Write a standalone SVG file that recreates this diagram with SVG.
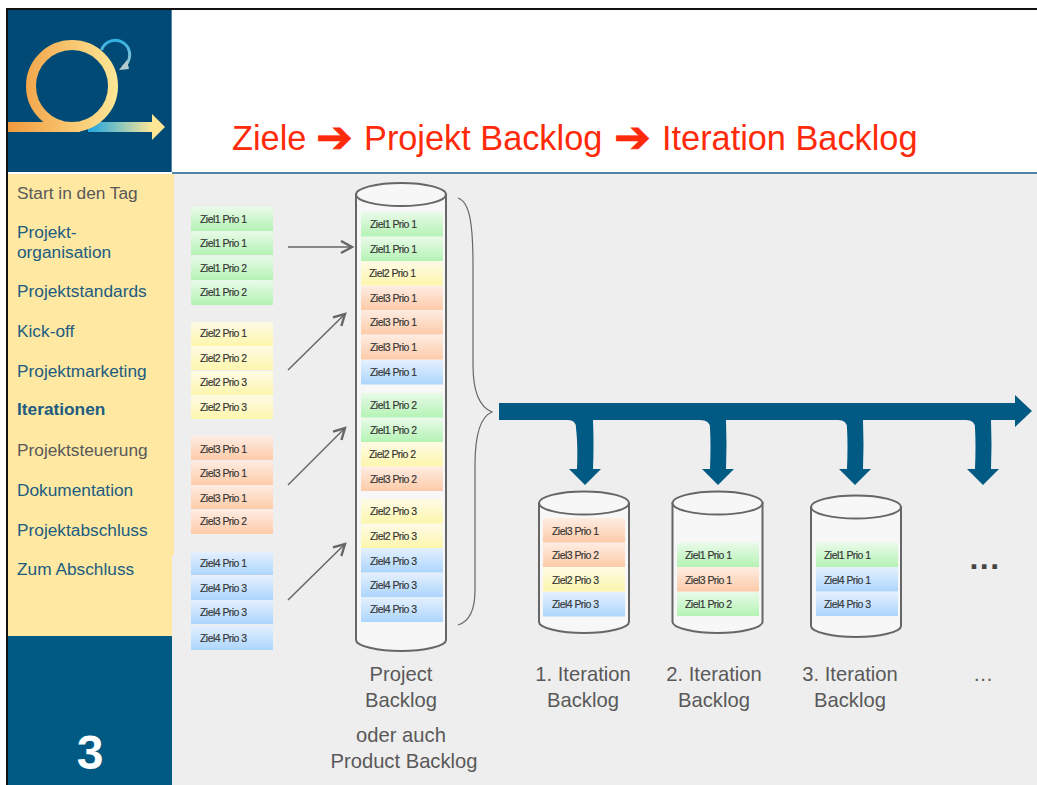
<svg xmlns="http://www.w3.org/2000/svg" width="1037" height="785" viewBox="0 0 1037 785">
<style>
text{font-family:"Liberation Sans",Arial,sans-serif}
.c{font-size:10.5px;fill:#333;letter-spacing:-.55px;stroke:#333;stroke-width:.15px}
.g{fill:url(#gg)}.y{fill:url(#gy)}.o{fill:url(#go)}.b{fill:url(#gb)}
.m{font-size:17.300px;fill:#1d5c80}
.mg{font-size:17.300px;fill:#595959}
.cap{font-size:20.200px;fill:#595959;text-anchor:middle}
.cyl{fill:#f7f7f7;stroke:#666;stroke-width:2}
.con{fill:none;stroke:#666;stroke-width:1.5}
.ti{font-size:34.300px;fill:#ff2a0a}
.ta{font-size:44px;fill:#ff2a0a;stroke:#ff2a0a;stroke-width:.8px}
</style>
<defs>
<linearGradient id="gg" x1="0" y1="0" x2="0" y2="1"><stop offset="0" stop-color="#e9fae9"/><stop offset="1" stop-color="#b4f3b4"/></linearGradient>
<linearGradient id="gy" x1="0" y1="0" x2="0" y2="1"><stop offset="0" stop-color="#fefbe6"/><stop offset="1" stop-color="#fdf6ac"/></linearGradient>
<linearGradient id="go" x1="0" y1="0" x2="0" y2="1"><stop offset="0" stop-color="#feece2"/><stop offset="1" stop-color="#fdcba8"/></linearGradient>
<linearGradient id="gb" x1="0" y1="0" x2="0" y2="1"><stop offset="0" stop-color="#e5f0fd"/><stop offset="1" stop-color="#acd6fd"/></linearGradient>
<linearGradient id="ring" gradientUnits="userSpaceOnUse" x1="8" y1="0" x2="118" y2="0"><stop offset="0" stop-color="#f19a3e"/><stop offset="1" stop-color="#fde796"/></linearGradient>
<linearGradient id="arr" gradientUnits="userSpaceOnUse" x1="92" y1="0" x2="152" y2="0"><stop offset="0" stop-color="#2aa9de"/><stop offset="1" stop-color="#fde796"/></linearGradient>
<linearGradient id="small" gradientUnits="userSpaceOnUse" x1="0" y1="40" x2="0" y2="70"><stop offset="0" stop-color="#2fb0e2"/><stop offset="1" stop-color="#b4ccd0"/></linearGradient>
<marker id="ah" markerUnits="userSpaceOnUse" markerWidth="16" markerHeight="16" refX="12" refY="7" orient="auto"><path d="M1 1L12 7L1 13" fill="none" stroke="#666" stroke-width="2.400"/></marker>
</defs>
<rect width="1037" height="785" fill="#fff"/>
<rect x="172" y="174" width="865" height="611" fill="#eee"/>
<rect x="172" y="172" width="865" height="2" fill="#4f86a6"/>
<rect x="8" y="10" width="164" height="162" fill="#004a75"/>
<rect x="171" y="10" width="1" height="162" fill="#4f86a6"/>
<rect x="6" y="8" width="1031" height="2" fill="#111"/>
<rect x="6" y="8" width="2" height="777" fill="#111"/>
<g id="logo">
<rect x="88" y="122" width="65" height="10" fill="url(#arr)"/>
<path d="M152 114L165 127L152 140Z" fill="#fde796"/>
<circle cx="72" cy="86" r="41" fill="none" stroke="url(#ring)" stroke-width="10"/>
<path d="M8 122H80V132H8Z" fill="url(#ring)"/>
<path d="M101.500 50A14.500 14.500 0 1 1 123 67" fill="none" stroke="url(#small)" stroke-width="3"/>
<path d="M119 70L129 69L127 60Z" fill="#b4ccd0"/>
</g>
<g id="sidebar">
<rect x="8" y="174" width="166" height="381" fill="#fee8a2"/>
<rect x="8" y="555" width="164" height="81" fill="#fee8a2"/>
<rect x="8" y="636" width="164" height="149" fill="#005a84"/>
<text class="mg" x="17" y="199">Start in den Tag</text>
<text class="m" x="17" y="238">Projekt-</text>
<text class="m" x="17" y="258">organisation</text>
<text class="m" x="17" y="297">Projektstandards</text>
<text class="m" x="17" y="337">Kick-off</text>
<text class="m" x="17" y="377">Projektmarketing</text>
<text class="m" x="17" y="415" font-weight="bold">Iterationen</text>
<text class="mg" x="17" y="456">Projektsteuerung</text>
<text class="m" x="17" y="496">Dokumentation</text>
<text class="m" x="17" y="536">Projektabschluss</text>
<text class="m" x="17" y="575">Zum Abschluss</text>
<text x="90" y="769" font-size="48" font-weight="bold" fill="#fff" text-anchor="middle">3</text>
</g>
<g id="title">
<text class="ti" x="232" y="150">Ziele</text>
<text class="ta" x="316" y="152" style="font-family:'DejaVu Sans',sans-serif">➔</text>
<text class="ti" x="364" y="150">Projekt Backlog</text>
<text class="ta" x="614" y="152" style="font-family:'DejaVu Sans',sans-serif">➔</text>
<text class="ti" x="662" y="150">Iteration Backlog</text>
</g>
<g id="goals">
<rect class="g" x="191" y="207" width="82" height="24"/><text class="c" x="200" y="223">Ziel1 Prio 1</text>
<rect class="g" x="191" y="231" width="82" height="24"/><text class="c" x="200" y="247">Ziel1 Prio 1</text>
<rect class="g" x="191" y="256" width="82" height="24"/><text class="c" x="200" y="272">Ziel1 Prio 2</text>
<rect class="g" x="191" y="280" width="82" height="25"/><text class="c" x="200" y="296">Ziel1 Prio 2</text>
<rect class="y" x="191" y="322" width="82" height="24"/><text class="c" x="200" y="337">Ziel2 Prio 1</text>
<rect class="y" x="191" y="346" width="82" height="24"/><text class="c" x="200" y="362">Ziel2 Prio 2</text>
<rect class="y" x="191" y="371" width="82" height="24"/><text class="c" x="200" y="386">Ziel2 Prio 3</text>
<rect class="y" x="191" y="395" width="82" height="24"/><text class="c" x="200" y="411">Ziel2 Prio 3</text>
<rect class="o" x="191" y="436" width="82" height="24"/><text class="c" x="200" y="453">Ziel3 Prio 1</text>
<rect class="o" x="191" y="461" width="82" height="24"/><text class="c" x="200" y="477">Ziel3 Prio 1</text>
<rect class="o" x="191" y="485" width="82" height="24"/><text class="c" x="200" y="502">Ziel3 Prio 1</text>
<rect class="o" x="191" y="510" width="82" height="24"/><text class="c" x="200" y="525">Ziel3 Prio 2</text>
<rect class="b" x="191" y="552" width="82" height="23"/><text class="c" x="200" y="567">Ziel4 Prio 1</text>
<rect class="b" x="191" y="576" width="82" height="24"/><text class="c" x="200" y="592">Ziel4 Prio 3</text>
<rect class="b" x="191" y="600" width="82" height="24"/><text class="c" x="200" y="616">Ziel4 Prio 3</text>
<rect class="b" x="191" y="625" width="82" height="25"/><text class="c" x="200" y="642">Ziel4 Prio 3</text>
</g>
<g id="project-backlog">
<path class="cyl" d="M356 194.500V640C356 646 378 651 401 651S446 646 446 640V194.500Z"/>
<ellipse class="cyl" cx="401" cy="194.500" rx="45" ry="11.500"/>
<rect class="g" x="361" y="212" width="82" height="24.500"/><text class="c" x="370" y="228">Ziel1 Prio 1</text>
<rect class="g" x="361" y="237" width="82" height="24"/><text class="c" x="370" y="253">Ziel1 Prio 1</text>
<rect class="y" x="361" y="261" width="82" height="24.500"/><text class="c" x="369" y="277">Ziel2 Prio 1</text>
<rect class="o" x="361" y="286" width="82" height="24"/><text class="c" x="370" y="302">Ziel3 Prio 1</text>
<rect class="o" x="361" y="310" width="82" height="24.500"/><text class="c" x="370" y="326">Ziel3 Prio 1</text>
<rect class="o" x="361" y="335" width="82" height="24.500"/><text class="c" x="370" y="351">Ziel3 Prio 1</text>
<rect class="b" x="361" y="360" width="82" height="24.500"/><text class="c" x="370" y="376">Ziel4 Prio 1</text>
<rect class="g" x="361" y="393" width="82" height="24.500"/><text class="c" x="370" y="409">Ziel1 Prio 2</text>
<rect class="g" x="361" y="418" width="82" height="24"/><text class="c" x="370" y="434">Ziel1 Prio 2</text>
<rect class="y" x="361" y="442" width="82" height="24.500"/><text class="c" x="369" y="458">Ziel2 Prio 2</text>
<rect class="o" x="361" y="467" width="82" height="24"/><text class="c" x="370" y="483">Ziel3 Prio 2</text>
<rect class="y" x="361" y="499" width="82" height="24.500"/><text class="c" x="370" y="515">Ziel2 Prio 3</text>
<rect class="y" x="361" y="524" width="82" height="24"/><text class="c" x="370" y="540">Ziel2 Prio 3</text>
<rect class="b" x="361" y="548" width="82" height="24.500"/><text class="c" x="370" y="565">Ziel4 Prio 3</text>
<rect class="b" x="361" y="573" width="82" height="24"/><text class="c" x="370" y="589">Ziel4 Prio 3</text>
<rect class="b" x="361" y="597" width="82" height="25"/><text class="c" x="370" y="613">Ziel4 Prio 3</text>
<text class="cap" x="401" y="681">Project</text>
<text class="cap" x="401" y="707">Backlog</text>
<text class="cap" x="401" y="742">oder auch</text>
<text class="cap" x="404" y="768">Product Backlog</text>
</g>
<g id="iteration-1">
<path class="cyl" d="M539 503V622C539 628 561 633 584 633S629 628 629 622V503Z"/>
<ellipse class="cyl" cx="584" cy="503" rx="45" ry="11.500"/>
<rect class="o" x="543" y="518" width="82" height="24.500"/><text class="c" x="552" y="535">Ziel3 Prio 1</text>
<rect class="o" x="543" y="543" width="82" height="24"/><text class="c" x="552" y="559">Ziel3 Prio 2</text>
<rect class="y" x="543" y="567" width="82" height="24.500"/><text class="c" x="552" y="584">Ziel2 Prio 3</text>
<rect class="b" x="543" y="592" width="82" height="24.500"/><text class="c" x="552" y="608">Ziel4 Prio 3</text>
<text class="cap" x="583" y="681">1. Iteration</text>
<text class="cap" x="583" y="707">Backlog</text>
</g>
<g id="iteration-2">
<path class="cyl" d="M672.500 503V622C672.500 628 695 633 717.500 633S762.500 628 762.500 622V503Z"/>
<ellipse class="cyl" cx="717.500" cy="503" rx="45" ry="11.500"/>
<rect class="g" x="677" y="543" width="82" height="24"/><text class="c" x="685" y="559">Ziel1 Prio 1</text>
<rect class="o" x="677" y="567" width="82" height="24.500"/><text class="c" x="685" y="584">Ziel3 Prio 1</text>
<rect class="g" x="677" y="592" width="82" height="24"/><text class="c" x="685" y="608">Ziel1 Prio 2</text>
<text class="cap" x="714" y="681">2. Iteration</text>
<text class="cap" x="714" y="707">Backlog</text>
</g>
<g id="iteration-3">
<path class="cyl" d="M811 507V626C811 632 833 637 856 637S901 632 901 626V507Z"/>
<ellipse class="cyl" cx="856" cy="507" rx="45" ry="11.500"/>
<rect class="g" x="816" y="543" width="82" height="24"/><text class="c" x="824" y="559">Ziel1 Prio 1</text>
<rect class="b" x="816" y="567" width="82" height="24.500"/><text class="c" x="824" y="584">Ziel4 Prio 1</text>
<rect class="b" x="816" y="592" width="82" height="24"/><text class="c" x="824" y="608">Ziel4 Prio 3</text>
<text class="cap" x="850" y="681">3. Iteration</text>
<text class="cap" x="850" y="707">Backlog</text>
</g>
<g id="more">
<text x="985" y="569" font-size="32" font-weight="bold" fill="#444" text-anchor="middle" letter-spacing="1.500">...</text>
<text class="cap" x="983" y="681">…</text>
</g>
<g id="connectors">
<path class="con" d="M288 247H352" marker-end="url(#ah)"/>
<path class="con" d="M288 370L345 314" marker-end="url(#ah)"/>
<path class="con" d="M288 485L345 428" marker-end="url(#ah)"/>
<path class="con" d="M288 600L345 544" marker-end="url(#ah)"/>
<path d="M458 198C470 202 473 225 473 265V365C473 395 482 408 492 412C482 416 475 432 475 465V590C475 612 468 622 458 625" fill="none" stroke="#666" stroke-width="1.200"/>
<path fill="#005a84" d="M499 403H1015V395L1032 411L1015 427V420H593Q594 445 593 469H601L585 485L569 469H577Q578 445 576 428Q576 420 568 420H499Z"/>
<path fill="#005a84" d="M700 420Q710 420 710 428Q711 445 710 469H702L718 485L734 469H726Q727 445 726 420Z"/>
<path fill="#005a84" d="M838 420Q847 420 847 428Q848 445 847 469H839L855 485L871 469H863Q864 445 863 420Z"/>
<path fill="#005a84" d="M966 420Q975 420 975 428Q976 445 975 469H967L983 485L999 469H991Q992 445 991 420Z"/>
</g>
</svg>
